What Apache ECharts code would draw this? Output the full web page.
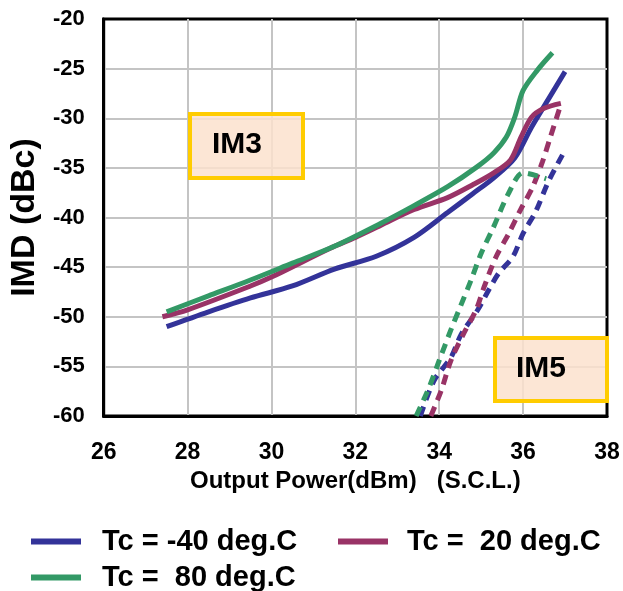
<!DOCTYPE html>
<html>
<head>
<meta charset="utf-8">
<script src="https://cdn.jsdelivr.net/npm/echarts@6/dist/echarts.min.js"></script>
<style>
  html, body { margin: 0; padding: 0; background: #fff; }
  #chart { width: 623px; height: 591px; }
</style>
</head>
<body>
<div id="chart"></div>
<script>
// ---- Data ----
const seriesNames = ['Tc = -40 deg.C', 'Tc =  20 deg.C', 'Tc =  80 deg.C'];
const xTicks = [26, 28, 30, 32, 34, 36, 38];
const yTicks = [-60, -55, -50, -45, -40, -35, -30, -25, -20];

// IM3 (solid)
const im3_m40 = [[27.5,-51.0],[28.5,-49.5],[29.5,-48.1],[30.5,-46.9],[31.5,-45.2],[32.5,-43.9],[33.4,-42.0],[34.2,-39.5],[34.8,-37.6],[35.3,-36.0],[35.8,-34.0],[36.2,-30.9],[36.6,-28.1],[37.0,-25.3]];
const im3_20  = [[27.4,-50.0],[28.0,-49.3],[29.5,-46.9],[30.0,-46.0],[31.4,-43.1],[32.0,-42.0],[32.6,-40.8],[33.4,-39.2],[34.2,-38.0],[34.8,-36.7],[35.3,-35.5],[35.7,-34.2],[35.95,-31.9],[36.2,-29.9],[36.5,-29.0],[36.9,-28.5]];
const im3_80  = [[27.5,-49.5],[28.5,-47.9],[29.5,-46.3],[30.5,-44.6],[31.5,-42.9],[32.6,-40.6],[33.4,-38.8],[34.2,-36.9],[34.9,-34.9],[35.3,-33.5],[35.6,-31.9],[35.8,-29.9],[36.0,-27.2],[36.35,-25.1],[36.7,-23.4]];

// IM5 (dashed)
const im5_m40 = [[33.55,-60],[33.88,-56.4],[34.28,-54.1],[34.52,-51.8],[34.92,-49.3],[35.18,-47.3],[35.42,-45.6],[35.75,-44.0],[36.0,-41.6],[36.3,-39.4],[36.6,-36.4],[36.95,-33.6]];
const im5_20  = [[33.8,-60],[34.05,-57.4],[34.28,-54.4],[34.57,-51.8],[34.88,-49.3],[35.07,-47.0],[35.35,-44.0],[35.66,-41.6],[35.94,-39.2],[36.22,-37.0],[36.46,-34.4],[36.65,-31.9],[36.9,-28.6]];
const im5_80  = [[33.45,-60],[33.76,-57.1],[34.0,-54.4],[34.28,-51.3],[34.52,-48.8],[34.76,-46.3],[35.0,-43.6],[35.28,-41.1],[35.66,-37.5],[36.0,-35.5],[36.55,-36.1]];

const colors = ['#333399', '#993366', '#339966'];
const FONT = "'Liberation Sans', Arial, Helvetica, sans-serif";

const chart = echarts.init(document.getElementById('chart'), null, { renderer: 'canvas' });

function solid(name, data, color) {
  return { name, type: 'line', data, smooth: 0.3, symbol: 'none', color,
    lineStyle: { width: 5, color, cap: 'butt' }, z: 3 };
}
function dashed(name, data, color) {
  return { name, type: 'line', data, smooth: 0.3, symbol: 'none', color,
    lineStyle: { width: 5, color, type: [10, 7], cap: 'butt' }, z: 3 };
}
function legendAt(name, left, top, gap) {
  return { show: true, data: [name], left, top, padding: 0, icon: 'rect',
    itemWidth: 50, itemHeight: 6, selectedMode: false,
    textStyle: { fontFamily: FONT, fontWeight: 'bold', fontSize: 29, color: '#000', padding: [0, 0, 0, gap] } };
}

const option = {
  animation: false,
  backgroundColor: '#fff',
  grid: { left: 100, right: 16, top: 19, bottom: 175, show: true, borderColor: '#000', borderWidth: 3, backgroundColor: 'transparent' },
  xAxis: {
    type: 'value', min: xTicks[0], max: xTicks[xTicks.length - 1], interval: 2,
    name: 'Output Power(dBm)   (S.C.L.)', nameLocation: 'middle', nameGap: 53,
    nameTextStyle: { fontFamily: FONT, fontWeight: 'bold', fontSize: 24, color: '#000' },
    axisLine: { show: true, lineStyle: { color: '#000', width: 3 } },
    axisTick: { show: false },
    axisLabel: { fontFamily: FONT, fontWeight: 'bold', fontSize: 23, color: '#000', margin: 25,
      alignMinLabel: 'center', alignMaxLabel: 'center' },
    splitLine: { show: true, showMinLine: false, showMaxLine: false, lineStyle: { color: '#c4c4c4', width: 2 } }
  },
  yAxis: {
    type: 'value', min: yTicks[0], max: yTicks[yTicks.length - 1], interval: 5,
    name: 'IMD (dBc)', nameLocation: 'middle', nameGap: 60, nameRotate: 90,
    nameTextStyle: { fontFamily: FONT, fontWeight: 'bold', fontSize: 34, color: '#000' },
    axisLine: { show: true, lineStyle: { color: '#000', width: 3 } },
    axisTick: { show: false },
    axisLabel: { fontFamily: FONT, fontWeight: 'bold', fontSize: 22, color: '#000', margin: 19 },
    splitLine: { show: true, showMinLine: false, showMaxLine: false, lineStyle: { color: '#c4c4c4', width: 2 } }
  },
  legend: [
    legendAt(seriesNames[0], 31, 527, 16),
    legendAt(seriesNames[1], 338, 527, 14),
    legendAt(seriesNames[2], 31, 563, 16)
  ],
  series: [
    solid(seriesNames[0], im3_m40, colors[0]),
    solid(seriesNames[1], im3_20, colors[1]),
    solid(seriesNames[2], im3_80, colors[2]),
    dashed('IM5 ' + seriesNames[0], im5_m40, colors[0]),
    dashed('IM5 ' + seriesNames[1], im5_20, colors[1]),
    dashed('IM5 ' + seriesNames[2], im5_80, colors[2])
  ],
  graphic: [
    { type: 'rect', z: 100, shape: { x: 190, y: 114, width: 113, height: 64 },
      style: { fill: 'rgba(252,226,206,0.85)', stroke: '#FFCC00', lineWidth: 4 } },
    { type: 'text', z: 101, x: 237, y: 145,
      style: { text: 'IM3', fontFamily: FONT, fontWeight: 'bold', fontSize: 30, fill: '#000', align: 'center', verticalAlign: 'middle' } },
    { type: 'rect', z: 100, shape: { x: 495, y: 338, width: 112, height: 63 },
      style: { fill: 'rgba(252,226,206,0.85)', stroke: '#FFCC00', lineWidth: 4 } },
    { type: 'text', z: 101, x: 541, y: 369,
      style: { text: 'IM5', fontFamily: FONT, fontWeight: 'bold', fontSize: 30, fill: '#000', align: 'center', verticalAlign: 'middle' } }
  ]
};
chart.setOption(option);
</script>
</body>
</html>
